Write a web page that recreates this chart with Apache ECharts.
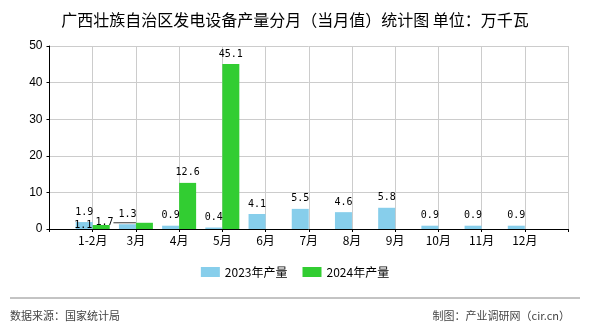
<!DOCTYPE html>
<html><head><meta charset="utf-8">
<script src="https://cdn.jsdelivr.net/npm/echarts@6/dist/echarts.min.js"></script>
<style>html,body{margin:0;padding:0;background:#fff;}#c{width:590px;height:330px;}</style>
</head><body><div id="c"></div>
<script>
var categories = ['', '1-2月', '3月', '4月', '5月', '6月', '7月', '8月', '9月', '10月', '11月', '12月', ''];
var series2023 = [null, 1.9, 1.3, 0.9, 0.4, 4.1, 5.5, 4.6, 5.8, 0.9, 0.9, 0.9, null];
var series2024 = [null, 1.1, 1.7, 12.6, 45.1, null, null, null, null, null, null, null, null];
var yTicks = [0, 10, 20, 30, 40, 50];
var titleText = '广西壮族自治区发电设备产量分月（当月值）统计图 单位：万千瓦';
var sourceText = '数据来源：国家统计局';
var makerText = '制图：产业调研网（cir.cn）';

var chart = echarts.init(document.getElementById('c'));
var labelFont = {fontFamily: 'DejaVu Sans Mono', fontSize: 10, color: '#000'};
var cjk = '"Noto Sans CJK SC", sans-serif';

function greenData() {
  return series2024.map(function (v, i) {
    if (i === 2) return {value: v, labelLine: {show: true}};
    return v;
  });
}

chart.setOption({
  animation: false,
  title: {
    text: titleText, left: 'center', top: 7,
    textStyle: {fontFamily: cjk, fontSize: 16, fontWeight: 'normal', color: '#000'}
  },
  legend: {
    bottom: 47, left: 'center', itemWidth: 19, itemHeight: 10, itemGap: 15,
    textStyle: {fontFamily: cjk, fontSize: 12, color: '#000'},
    icon: 'rect',
    data: ['2023年产量', '2024年产量']
  },
  grid: {left: 49.5, right: 22, top: 46, bottom: 101, containLabel: false},
  xAxis: {
    type: 'category', data: categories, boundaryGap: false,
    axisLine: {lineStyle: {color: '#000'}},
    axisTick: {show: true, length: 3, lineStyle: {color: '#000'}},
    axisLabel: {fontFamily: cjk, fontSize: 12, color: '#000', margin: 5, interval: 0},
    splitLine: {show: true, lineStyle: {color: '#ccc'}}
  },
  yAxis: {
    type: 'value', min: yTicks[0], max: yTicks[yTicks.length - 1], interval: 10,
    axisLine: {show: true, lineStyle: {color: '#000'}},
    axisTick: {show: true, length: 3, lineStyle: {color: '#000'}},
    axisLabel: {fontFamily: 'Liberation Sans', fontSize: 12, color: '#000', margin: 7},
    splitLine: {show: true, lineStyle: {color: '#ccc'}}
  },
  series: [
    {
      name: '2023年产量', type: 'bar', data: series2023, barWidth: 17, barGap: '0%',
      itemStyle: {color: '#87CEEB'},
      label: Object.assign({show: true, position: 'top', distance: 5}, labelFont)
    },
    {
      name: '2024年产量', type: 'bar', data: greenData(), barWidth: 17, barGap: '0%',
      itemStyle: {color: '#32CD32'},
      label: Object.assign({show: true, position: 'top', distance: 5}, labelFont),
      labelLine: {show: false, lineStyle: {color: '#333', width: 1}},
      labelLayout: function (p) {
        if (p.dataIndex === 1) return {dx: -18, dy: 10};
        if (p.dataIndex === 2) return {dx: -40, dy: 10};
        return {};
      }
    }
  ],
  graphic: [
    {type: 'line', shape: {x1: 10, y1: 298, x2: 580, y2: 298}, style: {stroke: '#888', lineWidth: 1}},
    {type: 'text', left: 10, top: 310, style: {text: sourceText, font: '11px ' + cjk, fill: '#444'}},
    {type: 'text', right: 20, top: 310, style: {text: makerText, font: '11px ' + cjk, fill: '#444'}}
  ]
});
</script></body></html>
